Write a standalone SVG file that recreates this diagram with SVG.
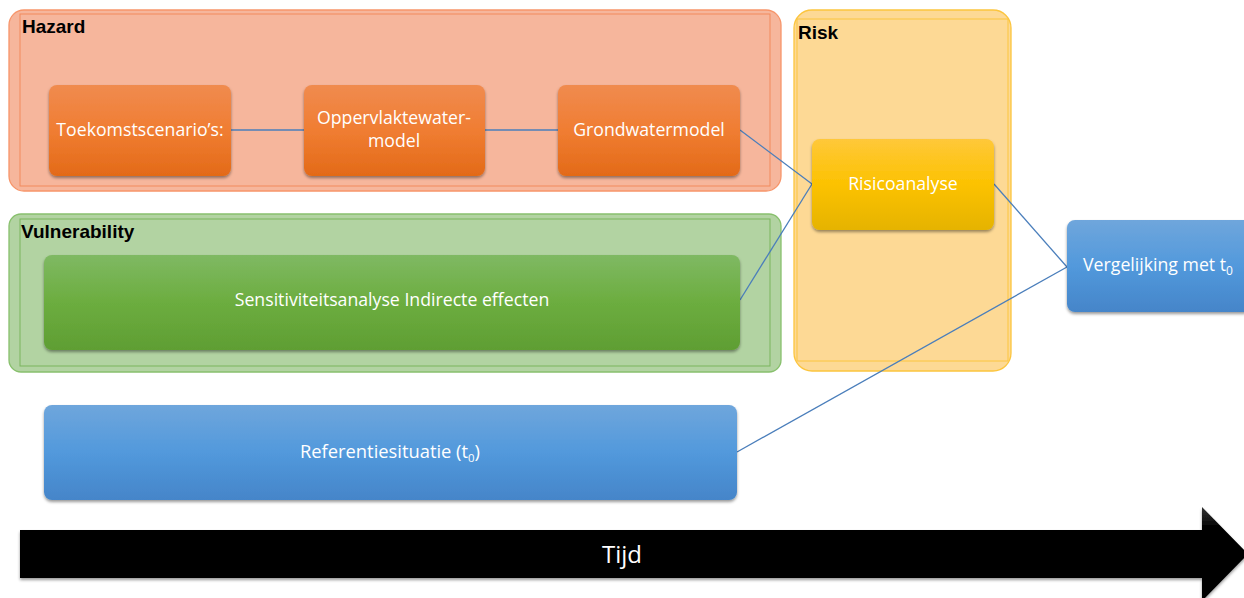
<svg xmlns="http://www.w3.org/2000/svg" width="1244" height="598" viewBox="0 0 1244 598">
<style>
.lbl{font-family:"Liberation Sans",Arial,sans-serif;font-weight:bold;font-size:19px;fill:#000}
.t{font-family:"Open Sans","Liberation Sans",sans-serif;font-size:17.7px;fill:#fff;text-anchor:middle}
.c{stroke:#4a7ebb;stroke-width:1.3;fill:none}
</style>
<defs>
<linearGradient id="gO" x1="0" y1="0" x2="0" y2="1"><stop offset="0" stop-color="#f08b4f"/><stop offset="0.5" stop-color="#f07d32"/><stop offset="1" stop-color="#e36a18"/></linearGradient>
<linearGradient id="gY" x1="0" y1="0" x2="0" y2="1"><stop offset="0" stop-color="#ffc83a"/><stop offset="0.5" stop-color="#fcc200"/><stop offset="1" stop-color="#e5b300"/></linearGradient>
<linearGradient id="gG" x1="0" y1="0" x2="0" y2="1"><stop offset="0" stop-color="#7fb963"/><stop offset="0.5" stop-color="#6cad3f"/><stop offset="1" stop-color="#5f9e33"/></linearGradient>
<linearGradient id="gB" x1="0" y1="0" x2="0" y2="1"><stop offset="0" stop-color="#6fa6dc"/><stop offset="0.5" stop-color="#5299dc"/><stop offset="1" stop-color="#4585c9"/></linearGradient>
<linearGradient id="gK" x1="0" y1="0" x2="0" y2="1"><stop offset="0" stop-color="#333"/><stop offset="0.2" stop-color="#050505"/><stop offset="1" stop-color="#000"/></linearGradient>
<filter id="sh" x="-10%" y="-10%" width="120%" height="130%"><feDropShadow dx="0" dy="2" stdDeviation="1.5" flood-color="#000" flood-opacity="0.4"/></filter>
</defs>

<g id="hazard">
<rect x="9" y="10" width="772" height="181" rx="15" fill="#f6b69c" stroke="#f7956a" stroke-width="1.3"/>
<rect x="20" y="14" width="750" height="172" fill="none" stroke="#f28a5c" stroke-width="1"/>
<text class="lbl" x="22" y="33">Hazard</text>
</g>
<g id="vulnerability">
<rect x="9" y="214" width="772" height="158" rx="12" fill="#b2d3a2" stroke="#88c06d" stroke-width="1.3"/>
<rect x="20" y="219" width="750" height="147" fill="none" stroke="#7ab55c" stroke-width="1"/>
<text class="lbl" x="21" y="238">Vulnerability</text>
</g>
<g id="risk">
<rect x="794" y="10" width="217" height="361" rx="18" fill="#fdd995" stroke="#fcc53e" stroke-width="1.3"/>
<rect x="797" y="19" width="211" height="342" fill="none" stroke="#fcc53e" stroke-width="1"/>
<text class="lbl" x="798" y="39">Risk</text>
</g>

<g id="connectors">
<line class="c" x1="231" y1="130" x2="304" y2="130"/>
<line class="c" x1="485" y1="130" x2="558" y2="130"/>
<line class="c" x1="740" y1="130" x2="812" y2="184"/>
<line class="c" x1="740" y1="300" x2="812" y2="184"/>
<line class="c" x1="994" y1="184" x2="1067" y2="267"/>
<line class="c" x1="737" y1="452" x2="1067" y2="267"/>
</g>

<g id="toekomst">
<rect x="49" y="85" width="182" height="91" rx="8" fill="url(#gO)" filter="url(#sh)"/>
<text class="t" x="140" y="136">Toekomstscenario’s:</text>
</g>
<g id="oppervlakte">
<rect x="304" y="85" width="181" height="91" rx="8" fill="url(#gO)" filter="url(#sh)"/>
<text class="t" x="394" y="124">Oppervlaktewater-</text>
<text class="t" x="394" y="147">model</text>
</g>
<g id="grondwater">
<rect x="558" y="85" width="182" height="91" rx="8" fill="url(#gO)" filter="url(#sh)"/>
<text class="t" x="649" y="136">Grondwatermodel</text>
</g>
<g id="risicoanalyse">
<rect x="812" y="139" width="182" height="91" rx="8" fill="url(#gY)" filter="url(#sh)"/>
<text class="t" x="903" y="190">Risicoanalyse</text>
</g>
<g id="sensitiviteit">
<rect x="44" y="255" width="696" height="95" rx="8" fill="url(#gG)" filter="url(#sh)"/>
<text class="t" x="392" y="306">Sensitiviteitsanalyse Indirecte effecten</text>
</g>
<g id="referentie">
<rect x="44" y="405" width="693" height="95" rx="8" fill="url(#gB)" filter="url(#sh)"/>
<text class="t" x="390" y="458" textLength="180" lengthAdjust="spacingAndGlyphs">Referentiesituatie (t<tspan font-size="11" dy="4">0</tspan><tspan dy="-4">)</tspan></text>
</g>
<g id="vergelijking">
<rect x="1067" y="220" width="185" height="92" rx="8" fill="url(#gB)" filter="url(#sh)"/>
<text class="t" x="1158" y="271">Vergelijking met t<tspan font-size="12" dy="4">0</tspan></text>
</g>
<g id="tijd">
<path d="M20 530 H1202 V507 L1248 554 L1202 601 V578 H20 Z" fill="url(#gK)" filter="url(#sh)"/>
<text x="622" y="563" font-family="Open Sans,Liberation Sans,sans-serif" font-size="24" fill="#fff" text-anchor="middle">Tijd</text>
</g>
</svg>
